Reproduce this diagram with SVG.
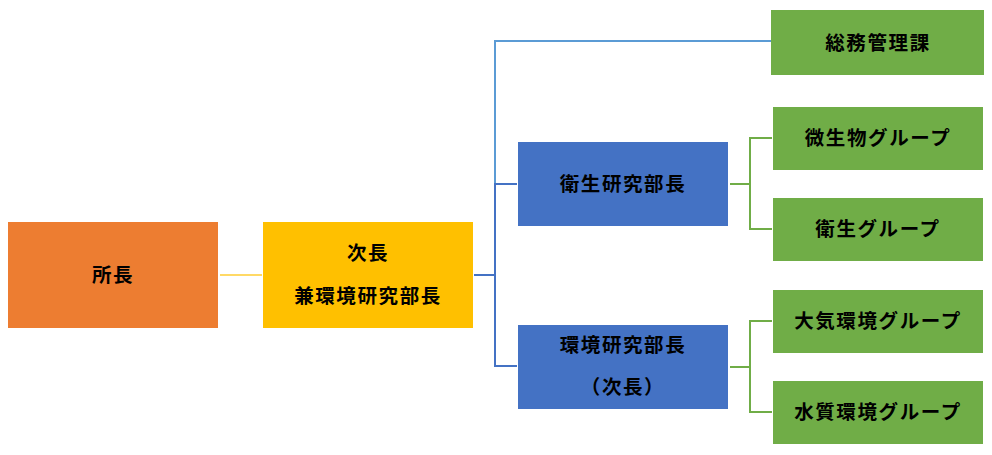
<svg xmlns="http://www.w3.org/2000/svg" width="992" height="455" viewBox="0 0 992 455">
<style>
text{font-family:"Noto Sans CJK JP","Noto Sans CJK SC",sans-serif;font-size:19.5px;font-weight:700;fill:#000;text-anchor:middle;dominant-baseline:central;letter-spacing:1.6px}
.c{fill:none;stroke-width:2}
</style>
<rect width="992" height="455" fill="#fff"/>
<g id="connectors">
<line class="c" x1="220" y1="275" x2="262" y2="275" stroke="#FFD966"/>
<line class="c" x1="474" y1="275" x2="496" y2="275" stroke="#4472C4"/>
<polyline class="c" points="771,41 495,41 495,183" stroke="#5B9BD5"/>
<polyline class="c" points="517,184 495,184 495,366 517,366" stroke="#4472C4"/>
<line class="c" x1="730" y1="184" x2="750" y2="184" stroke="#70AD47"/>
<polyline class="c" points="772,138 750,138 750,229 772,229" stroke="#70AD47"/>
<line class="c" x1="730" y1="367" x2="750" y2="367" stroke="#70AD47"/>
<polyline class="c" points="772,321 750,321 750,412 772,412" stroke="#70AD47"/>
</g>
<g id="n-shocho"><rect x="8" y="222" width="210" height="106" fill="#ED7D31"/><text x="113" y="273">所長</text></g>
<g id="n-jicho"><rect x="263" y="222" width="210" height="106" fill="#FFC000"/><text x="368" y="251">次長</text><text x="368" y="294">兼環境研究部長</text></g>
<g id="n-eisei-bucho"><rect x="518" y="142" width="210" height="84" fill="#4472C4"/><text x="623" y="182">衛生研究部長</text></g>
<g id="n-kankyo-bucho"><rect x="518" y="325" width="210" height="84" fill="#4472C4"/><text x="623" y="343">環境研究部長</text><text x="623" y="385">（次長）</text></g>
<g id="n-somu"><rect x="771" y="10" width="213" height="65" fill="#70AD47"/><text x="878" y="41">総務管理課</text></g>
<g id="n-biseibutsu"><rect x="773" y="107" width="210" height="63" fill="#70AD47"/><text x="878" y="136">微生物グループ</text></g>
<g id="n-eisei"><rect x="773" y="198" width="210" height="63" fill="#70AD47"/><text x="878" y="227">衛生グループ</text></g>
<g id="n-taiki"><rect x="773" y="290" width="210" height="63" fill="#70AD47"/><text x="878" y="319">大気環境グループ</text></g>
<g id="n-suishitsu"><rect x="773" y="381" width="210" height="63" fill="#70AD47"/><text x="878" y="410">水質環境グループ</text></g>
</svg>
